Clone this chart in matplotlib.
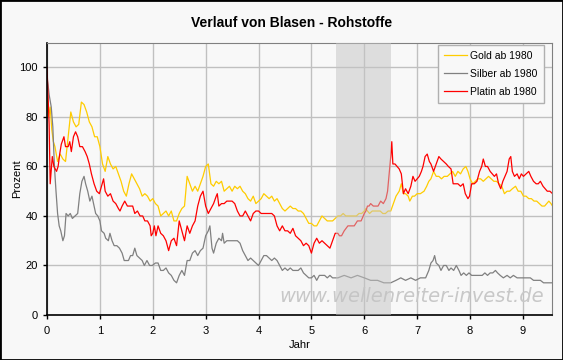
import numpy as np
import matplotlib.pyplot as plt
from matplotlib.patches import Rectangle

plt.rcParams['font.family'] = ['Liberation Sans', 'DejaVu Sans']

# Gold ab 1980
gold_x = [0.0, 0.03, 0.06, 0.09, 0.12, 0.15, 0.2, 0.25, 0.3, 0.35, 0.4, 0.45, 0.5, 0.55, 0.6, 0.65,
          0.7, 0.75, 0.8, 0.85, 0.9, 0.95, 1.0, 1.05, 1.1, 1.15, 1.2, 1.25, 1.3, 1.35, 1.4, 1.45,
          1.5, 1.55, 1.6, 1.65, 1.7, 1.75, 1.8, 1.85, 1.9, 1.95, 2.0, 2.05, 2.1, 2.15, 2.2, 2.25,
          2.3, 2.35, 2.4, 2.45, 2.5, 2.55, 2.6, 2.65, 2.7, 2.75, 2.8, 2.85, 2.9, 2.95, 3.0, 3.05,
          3.1, 3.15, 3.2, 3.25, 3.3, 3.35, 3.4, 3.45, 3.5, 3.55, 3.6, 3.65, 3.7, 3.75, 3.8, 3.85,
          3.9, 3.95, 4.0, 4.05, 4.1, 4.15, 4.2, 4.25, 4.3, 4.35, 4.4, 4.45, 4.5, 4.55, 4.6, 4.65,
          4.7, 4.75, 4.8, 4.85, 4.9, 4.95, 5.0, 5.05, 5.1, 5.15, 5.2, 5.25, 5.3, 5.35, 5.4, 5.45,
          5.5, 5.55, 5.6, 5.65, 5.7, 5.75, 5.8, 5.85, 5.9, 5.95, 6.0, 6.03, 6.06, 6.1, 6.15, 6.2,
          6.25, 6.3, 6.35, 6.4, 6.45, 6.5, 6.55, 6.6, 6.63, 6.66, 6.7, 6.74, 6.78, 6.83, 6.86, 6.91,
          6.95, 7.0, 7.06, 7.13, 7.18, 7.22, 7.26, 7.31, 7.36, 7.41, 7.46, 7.51, 7.57, 7.62, 7.67,
          7.72, 7.77, 7.82, 7.87, 7.92, 7.96, 8.0, 8.05, 8.1, 8.15, 8.2, 8.25, 8.3, 8.35, 8.4, 8.45,
          8.5, 8.55, 8.6, 8.65, 8.7, 8.75, 8.8, 8.86, 8.91, 8.96, 9.01, 9.06, 9.11, 9.16, 9.21, 9.26,
          9.31, 9.36, 9.41, 9.45, 9.49, 9.53, 9.56]
gold_y = [88, 80, 84, 75, 70, 68, 62, 65, 63, 62, 72, 82, 78, 76, 77, 86,
          85, 82, 78, 76, 72, 72, 68, 61, 58, 64, 61, 59, 60, 57, 54, 50,
          48, 53, 57, 55, 53, 51, 48, 49, 48, 46, 47, 45, 44, 40, 41, 42,
          40, 42, 38, 38, 41, 43, 44, 56, 53, 50, 52, 50, 53, 56, 60, 61,
          53, 52, 54, 53, 54, 50, 51, 52, 50, 52, 51, 52, 50, 49, 47, 46,
          48, 45, 46, 47, 49, 48, 47, 48, 46, 47, 45, 43, 42, 43, 44, 43,
          43, 42, 42, 41, 39, 37, 37, 36, 36, 38, 40, 39, 38, 38, 38, 39,
          40, 40, 41, 40, 40, 40, 40, 40, 41, 41, 42, 43, 42, 41, 42, 42,
          42, 42, 41, 41, 42, 42, 45, 48, 49, 50, 53, 49, 49, 48, 46, 48,
          48, 49, 49, 50, 52, 54, 55, 58, 56, 56, 55, 56, 56, 57, 58,
          56, 58, 57, 59, 60, 58, 55, 53, 54, 55, 55, 54, 55, 56, 55, 54,
          54, 53, 52, 49, 50, 50, 51, 52, 50, 50, 48, 48, 47, 47, 46, 46,
          45, 44, 44, 45, 46, 45, 44]

# Silber ab 1980
silver_x = [0.0, 0.02, 0.04, 0.08, 0.11, 0.14, 0.17, 0.2, 0.23, 0.26, 0.3, 0.33, 0.36, 0.4, 0.44,
            0.48, 0.53, 0.58, 0.62, 0.66, 0.7, 0.73, 0.77, 0.81, 0.85, 0.89, 0.92, 0.96, 1.0, 1.03,
            1.08, 1.11, 1.16, 1.19, 1.23, 1.27, 1.32, 1.37, 1.42, 1.46, 1.5, 1.54, 1.58, 1.62, 1.66,
            1.7, 1.75, 1.8, 1.84, 1.89, 1.94, 1.99, 2.05, 2.1, 2.15, 2.2, 2.25, 2.3, 2.35, 2.4,
            2.45, 2.5, 2.55, 2.6, 2.65, 2.7, 2.75, 2.8, 2.85, 2.9, 2.95, 3.0, 3.05, 3.08, 3.12,
            3.15, 3.2, 3.25, 3.3, 3.32, 3.35, 3.4, 3.45, 3.5, 3.55, 3.6, 3.65, 3.7, 3.75, 3.8,
            3.85, 3.9, 3.95, 4.0, 4.05, 4.1, 4.15, 4.2, 4.25, 4.3, 4.35, 4.4, 4.45, 4.5, 4.55,
            4.6, 4.65, 4.7, 4.75, 4.8, 4.85, 4.9, 4.95, 5.0, 5.05, 5.1, 5.15, 5.2, 5.25, 5.3,
            5.35, 5.4, 5.5, 5.62, 5.75, 5.87, 6.0, 6.12, 6.25, 6.37, 6.5, 6.6, 6.69, 6.78, 6.88,
            6.97, 7.06, 7.16, 7.22, 7.26, 7.3, 7.33, 7.36, 7.41, 7.45, 7.5, 7.55, 7.6, 7.64, 7.69,
            7.74, 7.79, 7.83, 7.88, 7.93, 7.98, 8.03, 8.08, 8.13, 8.18, 8.23, 8.28, 8.33, 8.38, 8.43,
            8.48, 8.52, 8.57, 8.63, 8.7, 8.76, 8.82, 8.89, 8.95, 9.01, 9.07, 9.14, 9.2, 9.26, 9.33,
            9.39, 9.45, 9.56]
silver_y = [96, 93, 89, 84, 76, 60, 50, 41, 36, 34, 30, 32, 41, 40, 41,
            39, 40, 41, 49, 54, 56, 53, 50, 46, 48, 44, 41, 40, 38, 34,
            33, 31, 30, 33, 30, 28, 28, 27, 25, 22, 22, 22, 24, 24, 27,
            24, 23, 22, 20, 22, 20, 20, 21, 21, 18, 18, 19, 17, 16, 14,
            13, 16, 18, 16, 22, 22, 25, 26, 24, 26, 27, 32, 34, 36, 27,
            25, 29, 31, 30, 33, 29, 30, 30, 30, 30, 30, 29, 26, 24, 22,
            23, 22, 21, 20, 22, 24, 24, 23, 22, 23, 22, 20, 18, 19, 18,
            19, 18, 18, 18, 19, 17, 16, 15, 15, 16, 14, 16, 16, 16, 15,
            16, 15, 15, 16, 15, 16, 15, 14, 14, 13, 13, 14, 15, 14, 15,
            14, 15, 15, 18, 21, 22, 24, 21, 20, 18, 20, 20, 18, 19, 18,
            20, 18, 16, 17, 16, 17, 16, 16, 16, 16, 16, 17, 16, 17, 17,
            18, 17, 16, 15, 16, 15, 16, 15, 15, 15, 15, 15, 14, 14, 14,
            13, 13, 13]

# Platin ab 1980
platin_x = [0.0, 0.02, 0.04, 0.06, 0.1, 0.13, 0.18, 0.21, 0.24, 0.27, 0.32, 0.35, 0.4, 0.43, 0.46,
            0.5, 0.54, 0.58, 0.62, 0.67, 0.72, 0.76, 0.8, 0.84, 0.89, 0.94, 0.99, 1.03, 1.07, 1.1,
            1.15, 1.2, 1.25, 1.3, 1.35, 1.38, 1.42, 1.47, 1.52, 1.57, 1.62, 1.66, 1.71, 1.76, 1.81,
            1.85, 1.9, 1.95, 1.97, 2.0, 2.03, 2.06, 2.1, 2.15, 2.2, 2.25, 2.3, 2.35, 2.4, 2.45,
            2.5, 2.55, 2.6, 2.65, 2.7, 2.75, 2.8, 2.85, 2.9, 2.95, 3.0, 3.05, 3.1, 3.15, 3.2,
            3.22, 3.25, 3.3, 3.35, 3.4, 3.45, 3.5, 3.55, 3.6, 3.65, 3.7, 3.75, 3.8, 3.85, 3.9,
            3.95, 4.0, 4.05, 4.1, 4.15, 4.2, 4.25, 4.3, 4.35, 4.4, 4.45, 4.5, 4.55, 4.6, 4.65,
            4.7, 4.75, 4.8, 4.85, 4.9, 4.95, 5.0, 5.05, 5.1, 5.15, 5.2, 5.25, 5.3, 5.35, 5.4,
            5.45, 5.5, 5.53, 5.57, 5.62, 5.69, 5.75, 5.81, 5.87, 5.94, 6.0, 6.03, 6.06, 6.09, 6.12,
            6.17, 6.22, 6.26, 6.31, 6.36, 6.41, 6.44, 6.47, 6.5, 6.52, 6.54, 6.58, 6.62, 6.66, 6.7,
            6.74, 6.78, 6.83, 6.88, 6.92, 6.96, 7.0, 7.04, 7.08, 7.11, 7.15, 7.19, 7.23, 7.26, 7.31,
            7.36, 7.41, 7.45, 7.5, 7.55, 7.59, 7.64, 7.68, 7.72, 7.77, 7.82, 7.87, 7.91, 7.96, 7.99,
            8.03, 8.08, 8.13, 8.18, 8.22, 8.25, 8.29, 8.33, 8.38, 8.42, 8.46, 8.5, 8.54, 8.58, 8.62,
            8.66, 8.7, 8.74, 8.77, 8.8, 8.84, 8.89, 8.93, 8.97, 9.01, 9.06, 9.11, 9.15, 9.2, 9.25,
            9.29, 9.33, 9.38, 9.42, 9.46, 9.51, 9.56]
platin_y = [100, 89, 77, 53, 64, 60, 58, 60, 65, 69, 72, 68, 68, 70, 66,
            72, 74, 72, 68, 68, 66, 64, 61, 57, 53, 50, 49, 52, 55, 50,
            48, 49, 46, 45, 43, 42, 44, 46, 44, 44, 44, 41, 42, 40, 40,
            38, 38, 36, 32, 33, 36, 32, 36, 33, 32, 30, 26, 30, 31, 28,
            38, 34, 30, 36, 33, 36, 38, 44, 48, 50, 44, 41, 43, 45, 48,
            49, 44, 45, 45, 46, 46, 46, 45, 42, 40, 40, 42, 40, 38, 41,
            42, 42, 41, 41, 41, 41, 41, 40, 36, 34, 36, 34, 34, 33, 35,
            32, 31, 30, 28, 29, 28, 25, 29, 31, 29, 30, 29, 28, 27, 30,
            33, 33, 32, 32, 34, 36, 36, 36, 38, 38, 41, 42, 44, 44, 45,
            44, 44, 44, 46, 45, 47, 50, 57, 64, 70, 61, 61, 60, 59, 57,
            49, 51, 49, 52, 56, 54, 55, 56, 58, 60, 64, 65, 62, 61, 58,
            61, 64, 63, 62, 61, 60, 59, 53, 53, 53, 52, 53, 49, 47, 48,
            53, 53, 54, 58, 60, 63, 60, 60, 58, 57, 56, 57, 53, 51, 54,
            56, 58, 63, 64, 58, 56, 57, 55, 57, 56, 57, 58, 56, 54, 53,
            53, 54, 52, 51, 50, 50, 49]

shade_start, shade_end = 5.46, 6.5
bg = '#f8f8f8'

fig = plt.figure(figsize=(5.63, 3.6), dpi=100, facecolor=bg)
ax = fig.add_axes([0.0835, 0.125, 0.897, 0.7565], facecolor=bg)

ax.plot(gold_x, gold_y, color='#ffcc00', lw=0.9, label='Gold ab 1980')
ax.plot(silver_x, silver_y, color='#808080', lw=0.9, label='Silber ab 1980')
ax.plot(platin_x, platin_y, color='#ff0000', lw=0.9, label='Platin ab 1980')
ax.axvspan(shade_start, shade_end, color='#c4c4c4', alpha=0.5, lw=0, zorder=3)

ax.text(0.984, 0.068, 'www.wellenreiter-invest.de', transform=ax.transAxes, ha='right', va='center',
        fontsize=14, style='italic', family='DejaVu Sans', color='#c8c8c8', zorder=1)

ax.set_xlim(0, 9.55)
ax.set_ylim(0, 110)
ax.set_xticks(np.arange(0, 10, 1))
ax.set_yticks(np.arange(0, 101, 20))
ax.grid(True, color='#c0c0c0', lw=1.0)
ax.set_axisbelow(True)
ax.tick_params(labelsize=8, length=3, width=1, color='black')
ax.tick_params(axis='x', pad=5)
for s in ['top', 'right']:
    ax.spines[s].set_color('#808080')
for s in ['left', 'bottom']:
    ax.spines[s].set_color('black')
    ax.spines[s].set_linewidth(1.2)

ax.set_xlabel('Jahr', fontsize=8, labelpad=3)
ax.set_ylabel('Prozent', fontsize=8, labelpad=-2)

leg = ax.legend(loc='upper right', bbox_to_anchor=(0.984, 0.992), borderaxespad=0, fontsize=7.5,
                fancybox=False, framealpha=1, facecolor=bg, edgecolor='#b0b0b0', handlelength=2.2,
                handletextpad=0.3, borderpad=0.6, labelspacing=0.75)
leg.get_frame().set_linewidth(1.0)

fig.text(0.517, 0.937, 'Verlauf von Blasen - Rohstoffe', ha='center', va='center',
         fontsize=10, fontweight='bold')
fig.patches.append(Rectangle((0, 0), 1, 1, transform=fig.transFigure, fill=False,
                             edgecolor='black', lw=2))

fig.savefig('out.png', dpi=100, facecolor=bg)
